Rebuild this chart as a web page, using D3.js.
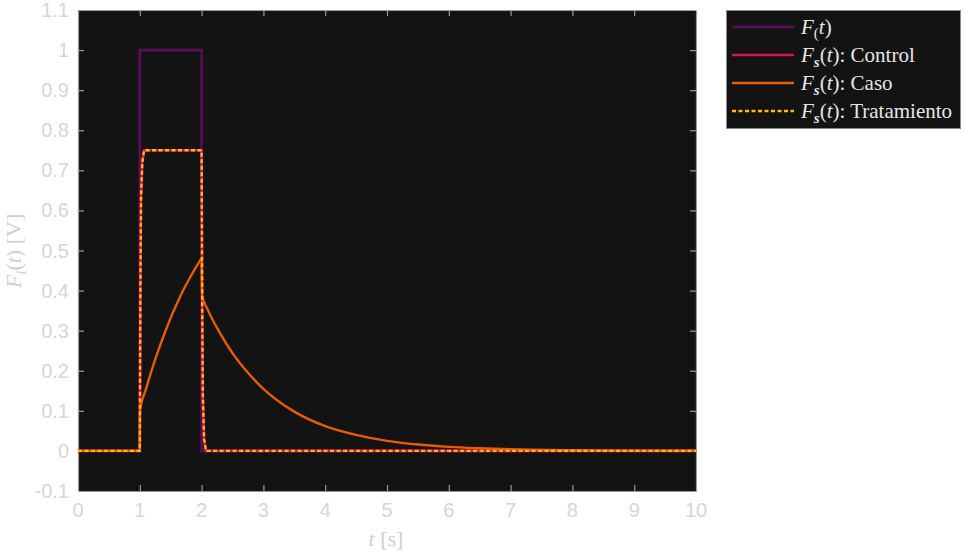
<!DOCTYPE html>
<html>
<head>
<meta charset="utf-8">
<script src="https://cdn.jsdelivr.net/npm/d3@7"></script>
<style>
  body { margin: 0; background: #fff; }
  svg { display: block; }
</style>
</head>
<body>
<svg id="chart" width="964" height="552"></svg>
<script>
// values
const ftTime = [0, 1, 1, 2, 2, 10];
const ftValue = [0, 0, 1, 1, 0, 0];

const controlTime = [0, 1, 1.01, 1.02, 1.04, 1.07, 2, 2.01, 2.02, 2.04, 2.07, 10];
const controlValue = [0, 0, 0.42, 0.63, 0.72, 0.75, 0.75, 0.36, 0.14, 0.03, 0, 0];

// caso: charging part, then discharge after t = 2
const casoRiseTime = [0, 1, 1.002, 1.1, 1.2, 1.3, 1.4, 1.5, 1.6, 1.7, 1.8, 1.9, 2];
const casoRiseValue = [0, 0, 0.098, 0.154, 0.205, 0.251, 0.293, 0.332, 0.367, 0.4, 0.429, 0.456, 0.481];
const casoFallTime = [2, 2.01, 2.05, 2.1, 2.15, 2.2, 2.25, 2.5, 2.75, 3, 3.5, 4, 4.5, 5, 5.5, 6, 6.5, 7, 8, 9, 10];
const casoFallValue = [0.481, 0.385, 0.368, 0.352, 0.336, 0.321, 0.307, 0.244, 0.195, 0.155, 0.098, 0.062, 0.04,
  0.025, 0.016, 0.01, 0.0065, 0.004, 0.0017, 0.0007, 0.0003];

const tratTime = [0, 1, 1.01, 1.02, 1.04, 1.07, 2, 2.01, 2.02, 2.04, 2.07, 10];
const tratValue = [0, 0, 0.42, 0.63, 0.72, 0.75, 0.75, 0.36, 0.14, 0.03, 0, 0];

const xTicks = [0, 1, 2, 3, 4, 5, 6, 7, 8, 9, 10];
const yTicks = [-0.1, 0, 0.1, 0.2, 0.3, 0.4, 0.5, 0.6, 0.7, 0.8, 0.9, 1, 1.1];

const svg = d3.select("#chart");
const mLeft = 78, mRight = 696, mTop = 10, mBottom = 491;

const x = d3.scaleLinear().domain([0, 10]).range([mLeft, mRight]);
const y = d3.scaleLinear().domain([-0.1, 1.1]).range([mBottom, mTop]);

svg.append("rect")
  .attr("x", mLeft).attr("y", mTop)
  .attr("width", mRight - mLeft).attr("height", mBottom - mTop)
  .attr("fill", "#131313");

const fmt = d => String(+d.toFixed(1));
const tickColor = "#9a9a9a";
const labelColor = "#d6d6d6";
const sans = "'Liberation Sans', Arial, sans-serif";

// inward ticks on all four sides
const gx = svg.append("g").attr("transform", `translate(0,${mBottom})`)
  .call(d3.axisBottom(x).tickValues(xTicks).tickFormat("").tickSizeInner(-6).tickSizeOuter(0));
const gy = svg.append("g").attr("transform", `translate(${mLeft},0)`)
  .call(d3.axisLeft(y).tickValues(yTicks).tickFormat("").tickSizeInner(-6).tickSizeOuter(0));
const gxt = svg.append("g").attr("transform", `translate(0,${mTop})`)
  .call(d3.axisTop(x).tickValues(xTicks).tickFormat("").tickSizeInner(-6).tickSizeOuter(0));
const gyr = svg.append("g").attr("transform", `translate(${mRight},0)`)
  .call(d3.axisRight(y).tickValues(yTicks).tickFormat("").tickSizeInner(-6).tickSizeOuter(0));

[gx, gy, gxt, gyr].forEach(g => {
  g.select(".domain").attr("stroke", tickColor).attr("stroke-width", 1.2);
  g.selectAll(".tick line").attr("stroke", tickColor).attr("stroke-width", 1.2);
});
gx.selectAll(".tick").filter(d => d === 0 || d === 10).select("line").remove();
gy.selectAll(".tick").filter(d => d === -0.1 || d === 1.1).select("line").remove();
gxt.selectAll(".tick").filter(d => d === 0 || d === 10).select("line").remove();
gyr.selectAll(".tick").filter(d => d === -0.1 || d === 1.1).select("line").remove();

// tick labels as plain text placed by the scales
svg.append("g").selectAll("text").data(xTicks).join("text")
  .attr("x", d => x(d)).attr("y", mBottom + 26)
  .attr("text-anchor", "middle")
  .attr("fill", labelColor)
  .style("font-family", sans).style("font-size", "20px")
  .text(fmt);
svg.append("g").selectAll("text").data(yTicks).join("text")
  .attr("x", mLeft - 9).attr("y", d => y(d) + 7)
  .attr("text-anchor", "end")
  .attr("fill", labelColor)
  .style("font-family", sans).style("font-size", "20px")
  .text(fmt);

// series
const line = d3.line().x(d => x(d[0])).y(d => y(d[1]));
const smooth = d3.line().x(d => x(d[0])).y(d => y(d[1])).curve(d3.curveMonotoneX);
const series = [
  { parts: [[ftTime, ftValue]], color: "#5e0b5c", width: 2.6, dash: null, gen: line },
  { parts: [[controlTime, controlValue]], color: "#d4145a", width: 2.6, dash: null, gen: line },
  { parts: [[casoRiseTime, casoRiseValue], [casoFallTime, casoFallValue]], color: "#e85d04", width: 2.4, dash: null, gen: smooth },
  { parts: [[tratTime, tratValue]], color: "#ffba08", width: 2.4, dash: "4,2.5", gen: line }
];
const clipId = "plotclip";
svg.append("clipPath").attr("id", clipId).append("rect")
  .attr("x", mLeft).attr("y", mTop).attr("width", mRight - mLeft).attr("height", mBottom - mTop);
const plot = svg.append("g").attr("clip-path", `url(#${clipId})`);
series.forEach(s => {
  s.parts.forEach(p => {
    plot.append("path")
      .datum(d3.zip(p[0], p[1]))
      .attr("d", s.gen)
      .attr("fill", "none")
      .attr("stroke", s.color)
      .attr("stroke-width", s.width)
      .attr("stroke-dasharray", s.dash)
      .attr("stroke-linejoin", "miter");
  });
});

// axis labels
const serif = "'Liberation Serif', 'Times New Roman', serif";
const xl = svg.append("text")
  .attr("x", 386).attr("y", 546)
  .attr("text-anchor", "middle")
  .attr("fill", "#cfcfcf")
  .style("font-family", serif).style("font-size", "22px");
xl.append("tspan").style("font-style", "italic").text("t");
xl.append("tspan").text(" [s]");

const yl = svg.append("text")
  .attr("transform", "translate(21,251) rotate(-90)")
  .attr("text-anchor", "middle")
  .attr("fill", "#cfcfcf")
  .style("font-family", serif).style("font-size", "22px");
yl.append("tspan").style("font-style", "italic").text("F");
yl.append("tspan").style("font-style", "italic").style("font-size", "15px").attr("dy", 5).text("i");
yl.append("tspan").attr("dy", -5).text("(");
yl.append("tspan").style("font-style", "italic").text("t");
yl.append("tspan").text(") [V]");

// legend
const legend = svg.append("g");
legend.append("rect")
  .attr("x", 726.5).attr("y", 10.5).attr("width", 234).attr("height", 118)
  .attr("fill", "#131313").attr("stroke", "#8a8a8a").attr("stroke-width", 1);
const legendY = [27, 55, 83, 111];
const legendSub = ["(", "s", "s", "s"];
const legendRest = ["", ": Control", ": Caso", ": Tratamiento"];
series.forEach((s, i) => {
  legend.append("line")
    .attr("x1", 732).attr("x2", 794)
    .attr("y1", legendY[i]).attr("y2", legendY[i])
    .attr("stroke", s.color).attr("stroke-width", s.width)
    .attr("stroke-dasharray", s.dash);
  const tx = legend.append("text")
    .attr("x", 801).attr("y", legendY[i] + 7)
    .attr("fill", "#e6e6e6")
    .style("font-family", serif).style("font-size", "21px");
  tx.append("tspan").style("font-style", "italic").text("F");
  if (i === 0) {
    tx.append("tspan").style("font-size", "15px").attr("dy", 4).text("(");
    tx.append("tspan").attr("dy", -4).style("font-style", "italic").text("t");
    tx.append("tspan").text(")");
  } else {
    tx.append("tspan").style("font-style", "italic").style("font-size", "15px")
      .style("font-weight", "bold").attr("dy", 5).text(legendSub[i]);
    tx.append("tspan").attr("dy", -5).text("(");
    tx.append("tspan").style("font-style", "italic").text("t");
    tx.append("tspan").text(")" + legendRest[i]);
  }
});
</script>
</body>
</html>
